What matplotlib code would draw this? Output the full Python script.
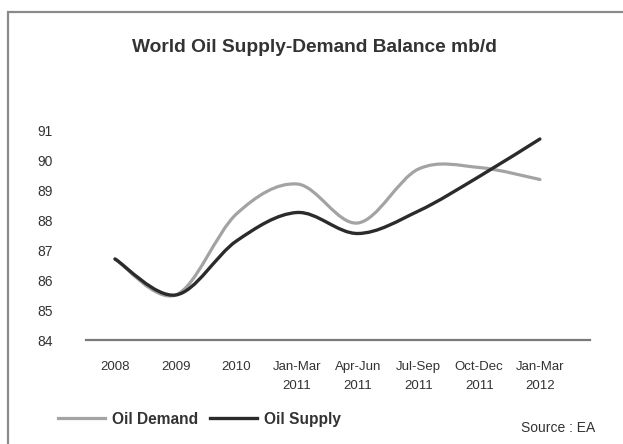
import matplotlib
matplotlib.use("Agg")
import matplotlib.pyplot as plt
from matplotlib.path import Path
from matplotlib.patches import PathPatch, Rectangle
from matplotlib.lines import Line2D

categories = ["2008", "2009", "2010", "Jan-Mar\n2011", "Apr-Jun\n2011",
              "Jul-Sep\n2011", "Oct-Dec\n2011", "Jan-Mar\n2012"]
oil_demand = [86.7, 85.5, 88.2, 89.2, 87.9, 89.7, 89.75, 89.35]
oil_supply = [86.7, 85.5, 87.3, 88.25, 87.55, 88.3, 89.45, 90.7]
y_ticks = [84, 85, 86, 87, 88, 89, 90, 91]

title = "World Oil Supply-Demand Balance mb/d"
source = "Source : EA"

FONT = ["Liberation Sans Narrow", "Liberation Sans", "DejaVu Sans"]
plt.rcParams["font.family"] = FONT

W, H = 623, 444
fig = plt.figure(figsize=(W / 100, H / 100), dpi=100)
fig.patch.set_facecolor("white")

# outer frame
fig.patches.append(Rectangle((8 / W, -0.05), 1.2, (H - 12) / H + 0.05,
                             transform=fig.transFigure, fill=False,
                             edgecolor="#8a8a8a", linewidth=1.6))

ax = fig.add_axes([86 / W, (H - 340) / H, (590 - 86) / W, (340 - 130) / H])
ax.set_facecolor("none")
x0 = 115
dx = 60.7
ax.set_xlim((86 - x0) / dx, (590 - x0) / dx)
ax.set_ylim(84, 91)


def smooth_path(xs, ys):
    pts = list(zip(xs, ys))
    n = len(pts)
    verts = [pts[0]]
    codes = [Path.MOVETO]
    for i in range(n - 1):
        p0 = pts[i - 1] if i > 0 else pts[i]
        p1 = pts[i]
        p2 = pts[i + 1]
        p3 = pts[i + 2] if i + 2 < n else pts[i + 1]
        c1 = (p1[0] + (p2[0] - p0[0]) / 6, p1[1] + (p2[1] - p0[1]) / 6)
        c2 = (p2[0] - (p3[0] - p1[0]) / 6, p2[1] - (p3[1] - p1[1]) / 6)
        verts += [c1, c2, p2]
        codes += [Path.CURVE4] * 3
    return Path(verts, codes)


xs = list(range(len(categories)))
demand_color = "#a3a3a3"
supply_color = "#2b2b2b"
ax.add_patch(PathPatch(smooth_path(xs, oil_demand), facecolor="none",
                       edgecolor=demand_color, linewidth=2.3,
                       capstyle="round", joinstyle="round", clip_on=False, zorder=3))
ax.add_patch(PathPatch(smooth_path(xs, oil_supply), facecolor="none",
                       edgecolor=supply_color, linewidth=2.4,
                       capstyle="round", joinstyle="round", clip_on=False, zorder=4))

for s in ["top", "right", "left"]:
    ax.spines[s].set_visible(False)
ax.spines["bottom"].set_color("#7a7a7a")
ax.spines["bottom"].set_linewidth(1.6)

ax.set_yticks(y_ticks)
ax.set_yticklabels([str(v) for v in y_ticks], fontsize=10, color="#333333")
ax.set_xticks(xs)
ax.set_xticklabels(categories, fontsize=9.5, color="#333333", linespacing=1.75)
ax.tick_params(axis="y", length=0, pad=24)
ax.tick_params(axis="x", length=0, pad=15)

fig.text(314 / W, (H - 47) / H, title, ha="center", va="center",
         fontsize=13.8, fontweight="bold", color="#333333")

handles = [Line2D([], [], color=demand_color, linewidth=2.3),
           Line2D([], [], color=supply_color, linewidth=2.4)]
fig.legend(handles, ["Oil Demand", "Oil Supply"], loc="center left",
           bbox_to_anchor=(44 / W, (H - 419) / H), ncol=2, frameon=False,
           handlelength=3.0, handletextpad=0.45, columnspacing=0.8,
           prop={"family": FONT, "weight": "bold", "size": 11.2},
           labelcolor="#333333")

fig.text(595 / W, (H - 428) / H, source, ha="right", va="center",
         fontsize=10, color="#333333")

fig.savefig("out.png", dpi=100, facecolor="white")
